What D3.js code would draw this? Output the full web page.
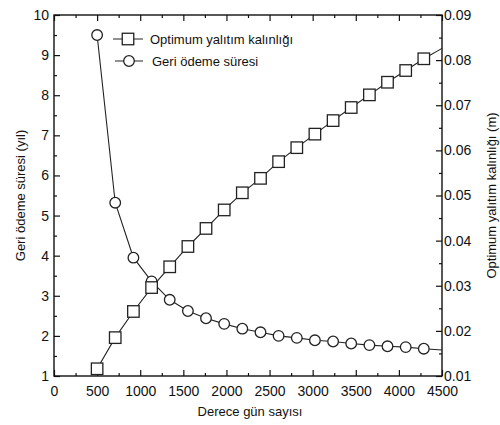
<!doctype html>
<meta charset="utf-8">
<script src="https://d3js.org/d3.v7.min.js"></script>
<style>
body { margin:0; background:#fff; }
text { font-family: Arial, "Liberation Sans", sans-serif; fill:#111; }
</style>
<body>
</body>
<script>

// degree days (x) and the two series
var degreeDays = [500, 710, 921, 1132, 1342, 1553, 1763, 1974, 2184, 2395,
                  2605, 2816, 3026, 3237, 3447, 3658, 3868, 4079, 4289, 4500];
var payback   = [9.50, 5.32, 3.95, 3.36, 2.90, 2.62, 2.44, 2.30, 2.18, 2.09,
                 2.00, 1.95, 1.89, 1.86, 1.81, 1.77, 1.74, 1.72, 1.68, 1.65];
var thickness = [0.0116, 0.0185, 0.0243, 0.0296, 0.0342, 0.0387, 0.0427, 0.0468, 0.0506, 0.0538,
                 0.0575, 0.0606, 0.0636, 0.0666, 0.0695, 0.0723, 0.0751, 0.0777, 0.0803, 0.0826];

var xTicks = [0, 500, 1000, 1500, 2000, 2500, 3000, 3500, 4000, 4500];
var yLeftTicks = [1, 2, 3, 4, 5, 6, 7, 8, 9, 10];
var yRightTicks = [0.01, 0.02, 0.03, 0.04, 0.05, 0.06, 0.07, 0.08, 0.09];

var W = 500, H = 425;
var L = 54, R = 442, T = 15, B = 376;

var svg = d3.select("body").append("svg").attr("width", W).attr("height", H);

var x = d3.scaleLinear().domain([0, 4500]).range([L, R]);
var yL = d3.scaleLinear().domain([1, 10]).range([B, T]);
var yR = d3.scaleLinear().domain([0.01, 0.09]).range([B, T]);

var xMinor = xTicks.slice(0, -1).map(function(d){ return d + 250; });
var yLMinor = yLeftTicks.slice(0, -1).map(function(d){ return d + 0.5; });
var yRMinor = yRightTicks.slice(0, -1).map(function(d){ return d + 0.005; });

function styleAxis(g) {
    g.select(".domain").remove();
    g.selectAll(".tick line").attr("stroke", "#111").attr("stroke-width", 1.2);
    g.selectAll(".tick text").style("font-size", "14px");
}

// bottom
svg.append("g").attr("transform", "translate(0," + B + ")")
    .call(d3.axisBottom(x).tickValues(xTicks).tickSize(-6).tickPadding(10).tickFormat(d3.format("d")))
    .call(styleAxis);
svg.append("g").attr("transform", "translate(0," + B + ")")
    .call(d3.axisBottom(x).tickValues(xMinor).tickSize(-3).tickFormat(""))
    .call(styleAxis);
// top
svg.append("g").attr("transform", "translate(0," + T + ")")
    .call(d3.axisTop(x).tickValues(xTicks).tickSize(-6).tickFormat(""))
    .call(styleAxis);
svg.append("g").attr("transform", "translate(0," + T + ")")
    .call(d3.axisTop(x).tickValues(xMinor).tickSize(-3).tickFormat(""))
    .call(styleAxis);
// left
svg.append("g").attr("transform", "translate(" + L + ",0)")
    .call(d3.axisLeft(yL).tickValues(yLeftTicks).tickSize(-6).tickPadding(5).tickFormat(d3.format("d")))
    .call(styleAxis);
svg.append("g").attr("transform", "translate(" + L + ",0)")
    .call(d3.axisLeft(yL).tickValues(yLMinor).tickSize(-3).tickFormat(""))
    .call(styleAxis);
// right
svg.append("g").attr("transform", "translate(" + R + ",0)")
    .call(d3.axisRight(yR).tickValues(yRightTicks).tickSize(-6).tickPadding(2).tickFormat(d3.format(".2f")))
    .call(styleAxis);
svg.append("g").attr("transform", "translate(" + R + ",0)")
    .call(d3.axisRight(yR).tickValues(yRMinor).tickSize(-3).tickFormat(""))
    .call(styleAxis);

svg.selectAll(".tick text").filter(function(){ return this.getAttribute("x") > 0; })
    .attr("x", 2);

// frame
svg.append("rect").attr("x", L).attr("y", T).attr("width", R - L).attr("height", B - T)
    .attr("fill", "none").attr("stroke", "#111").attr("stroke-width", 1.4);

var pay = degreeDays.map(function(d, i){ return {x: d, y: payback[i]}; });
var thk = degreeDays.map(function(d, i){ return {x: d, y: thickness[i]}; });

var lineL = d3.line().x(function(d){ return x(d.x); }).y(function(d){ return yL(d.y); });
var lineR = d3.line().x(function(d){ return x(d.x); }).y(function(d){ return yR(d.y); });

// payback (circles)
svg.append("path").datum(pay).attr("d", lineL)
    .attr("fill", "none").attr("stroke", "#222").attr("stroke-width", 1.1);
svg.selectAll(".circ").data(pay.filter(function(d){ return d.x < 4500; }))
    .enter().append("circle").attr("class", "circ")
    .attr("cx", function(d){ return x(d.x); })
    .attr("cy", function(d){ return yL(d.y); })
    .attr("r", 5.3)
    .attr("fill", "#fff").attr("stroke", "#222").attr("stroke-width", 1.3);

// thickness (squares)
svg.append("path").datum(thk).attr("d", lineR)
    .attr("fill", "none").attr("stroke", "#222").attr("stroke-width", 1.1);
var s = 11.5;
svg.selectAll(".sq").data(thk.filter(function(d){ return d.x < 4500; }))
    .enter().append("rect").attr("class", "sq")
    .attr("x", function(d){ return x(d.x) - s / 2; })
    .attr("y", function(d){ return yR(d.y) - s / 2; })
    .attr("width", s).attr("height", s)
    .attr("fill", "#fff").attr("stroke", "#222").attr("stroke-width", 1.3);

// legend
var lg = svg.append("g");
lg.append("line").attr("x1", 113).attr("x2", 143).attr("y1", 39).attr("y2", 39).attr("stroke", "#222");
lg.append("rect").attr("x", 128 - s / 2).attr("y", 39 - s / 2).attr("width", s).attr("height", s)
    .attr("fill", "#fff").attr("stroke", "#222").attr("stroke-width", 1.3);
lg.append("text").attr("x", 150).attr("y", 39).attr("dy", "0.35em").style("font-size", "13px")
    .text("Optimum yalıtım kalınlığı");
lg.append("line").attr("x1", 115).attr("x2", 143).attr("y1", 61).attr("y2", 61).attr("stroke", "#222");
lg.append("circle").attr("cx", 129).attr("cy", 61).attr("r", 5.3)
    .attr("fill", "#fff").attr("stroke", "#222").attr("stroke-width", 1.3);
lg.append("text").attr("x", 152).attr("y", 61).attr("dy", "0.35em").style("font-size", "13px")
    .text("Geri ödeme süresi");

// axis titles
svg.append("text").attr("x", (L + R) / 2 + 2).attr("y", 416).attr("text-anchor", "middle")
    .style("font-size", "13px").text("Derece gün sayısı");
svg.append("text").attr("transform", "translate(20," + ((T + B) / 2) + ") rotate(-90)")
    .attr("text-anchor", "middle").attr("dy", "0.35em").style("font-size", "13px")
    .text("Geri ödeme süresi (yıl)");
svg.append("text").attr("transform", "translate(491," + ((T + B) / 2) + ") rotate(-90)")
    .attr("text-anchor", "middle").attr("dy", "0.35em").style("font-size", "13px")
    .text("Optimum yalıtım kalınlığı (m)");

</script>
